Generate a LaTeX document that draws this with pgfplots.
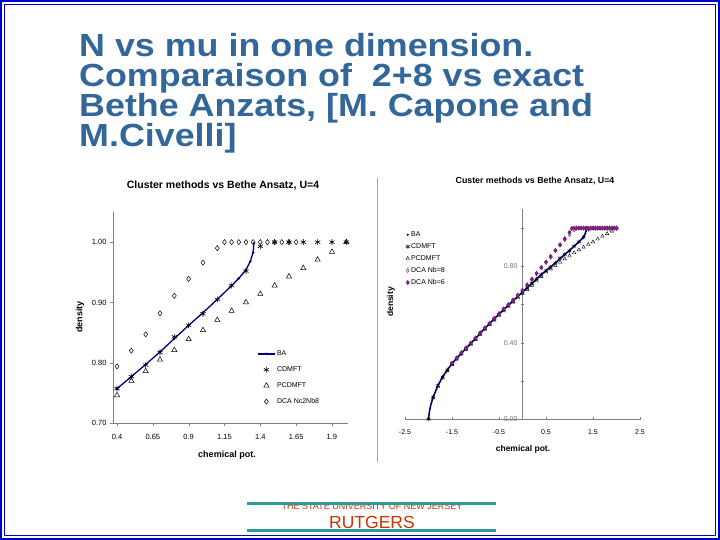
\documentclass[border=0pt]{standalone}
\usepackage{fontspec}
\setmainfont{Liberation Sans}
\usepackage{pgfplots}
\pgfplotsset{compat=1.18}
\definecolor{cTitle}{HTML}{336699}
\definecolor{cNavy}{HTML}{000080}
\definecolor{cPurple}{HTML}{7F1F7F}
\definecolor{cFrame}{HTML}{0000CC}
\definecolor{cTeal}{HTML}{2A9A9A}
\definecolor{cRed}{HTML}{CC3300}
\definecolor{cAxis}{HTML}{808080}

\begin{document}
\begin{tikzpicture}[x=1pt,y=1pt]
\useasboundingbox (0pt,0pt) rectangle (720pt,540pt);
\fill[white] (0pt,0pt) rectangle (720pt,540pt);
\draw[cFrame,line width=2pt] (1pt,1pt) rectangle (719pt,539pt);
\draw[cFrame,line width=1pt] (4.5pt,4.5pt) rectangle (715.5pt,535.5pt);

% slide title
\node[anchor=north west, align=left, inner sep=0, text=cTitle, xscale=1.12,
      font=\bfseries\fontsize{32}{30}\selectfont] at (79pt,507pt)
  {N vs mu in one dimension.\\Comparaison of\ \ 2+8 vs exact\\Bethe Anzats, [M. Capone and\\M.Civelli]};

% ---- left chart
\begin{axis}[
    at={(113pt,117pt)}, anchor=south west, scale only axis,
    width=235pt, height=211pt,
    xmin=0.372, xmax=2.012, ymin=0.7, ymax=1.05,
    axis x line=bottom, axis y line=left,
    axis line style={-,cAxis}, tick style={cAxis},
    tick align=outside, major tick length=3pt,
    xtick={0.4,0.65,0.9,1.15,1.4,1.65,1.9},
    xticklabels={0.4,0.65,0.9,1.15,1.4,1.65,1.9},
    ytick={0.7,0.8,0.9,1.0},
    yticklabels={0.70,0.80,0.90,1.00},
    tick label style={font=\fontsize{7.5}{8}\selectfont},
    xticklabel style={yshift=-5pt},
    legend style={at={(rel axis cs:0.6,0.36)}, anchor=north west, draw=none, fill=none,
                  font=\fontsize{7}{8}\selectfont, row sep=6.5pt, nodes={inner sep=1.5pt}},
    legend cell align=left,
  ]
  \addplot[cNavy, line width=1.3pt, mark=*, mark size=0.5pt] coordinates {
    (0.4,0.757) (0.5,0.777) (0.6,0.797) (0.7,0.818) (0.8,0.840) (0.9,0.862)
    (1.0,0.883) (1.1,0.905) (1.2,0.928) (1.25,0.940) (1.3,0.954) (1.33,0.968)
    (1.35,0.983) (1.355,0.998)
  };
  \addlegendentry{BA}
  \addplot[only marks, mark=asterisk, mark size=3pt, black, mark options={line width=0.6pt}] coordinates {
    (0.4,0.757) (0.5,0.777) (0.6,0.796) (0.7,0.817) (0.8,0.843) (0.9,0.862)
    (1.0,0.881) (1.1,0.905) (1.2,0.928) (1.3,0.952) (1.4,0.993) (1.5,1.0)
    (1.6,1.0) (1.7,1.0) (1.8,1.0) (1.9,1.0) (2.0,1.0)
  };
  \addlegendentry{CDMFT}
  \addplot[only marks, mark=triangle, mark size=3pt, black, mark options={line width=0.5pt}] coordinates {
    (0.4,0.746) (0.5,0.770) (0.6,0.786) (0.7,0.805) (0.8,0.821) (0.9,0.839)
    (1.0,0.854) (1.1,0.871) (1.2,0.886) (1.3,0.900) (1.4,0.914) (1.5,0.928)
    (1.6,0.943) (1.7,0.957) (1.8,0.971) (1.9,0.984) (2.0,1.0)
  };
  \addlegendentry{PCDMFT}
  \addplot[only marks, mark=diamond, mark size=2.6pt, black, mark options={line width=0.5pt}] coordinates {
    (0.4,0.794) (0.5,0.820) (0.6,0.847) (0.7,0.882) (0.8,0.911) (0.9,0.939)
    (1.0,0.966) (1.1,0.990) (1.15,1.0) (1.2,1.0) (1.25,1.0) (1.3,1.0) (1.35,1.0)
    (1.4,1.0) (1.45,1.0) (1.5,1.0) (1.55,1.0) (1.6,1.0) (1.65,1.0)
  };
  \addlegendentry{DCA Nc2Nb8}
\end{axis}
\node[font=\bfseries\fontsize{10.5}{11}\selectfont] at (223pt,354pt) {Cluster methods vs Bethe Ansatz, U=4};
\node[font=\bfseries\fontsize{9}{10}\selectfont, rotate=90] at (80pt,223pt) {density};
\node[font=\bfseries\fontsize{9}{10}\selectfont] at (227pt,85pt) {chemical pot.};

% separator (frame of right chart)
\draw[cAxis!70, line width=0.6pt] (377pt,362pt) -- (377pt,78pt);

% ---- right chart
\begin{axis}[
    at={(405pt,121pt)}, anchor=south west, scale only axis,
    width=235pt, height=210pt,
    xmin=-2.5, xmax=2.5, ymin=0, ymax=1.1,
    axis x line=bottom, axis y line=center,
    hide obscured y ticks=false,
    axis line style={-,cAxis}, tick style={cAxis},
    major tick length=3pt,
    xtick={-2.5,-1.5,-0.5,0.5,1.5,2.5},
    xticklabels={-2.5,-1.5,-0.5,0.5,1.5,2.5},
    ytick={0,0.2,0.4,0.6,0.8,1.0},
    yticklabels={0.00,,0.40,,0.80,},
    tick label style={font=\fontsize{7}{8}\selectfont},
    yticklabel style={text=black!55},
    xticklabel style={yshift=-6pt},
    legend style={at={(rel axis cs:-0.01,0.91)}, anchor=north west, draw=none, fill=none,
                  font=\fontsize{7}{8}\selectfont, row sep=2.5pt, nodes={inner sep=1.5pt}},
    legend cell align=left,
  ]
  \addplot[cNavy, line width=1.6pt, forget plot] coordinates {
    (-2.0,0.0) (-1.98,0.04) (-1.95,0.075) (-1.9,0.115) (-1.8,0.175) (-1.7,0.22)
    (-1.6,0.257) (-1.5,0.29) (-1.4,0.318) (-1.3,0.345) (-1.2,0.37) (-1.1,0.396)
    (-1.0,0.422) (-0.9,0.449) (-0.8,0.475) (-0.7,0.50) (-0.6,0.525) (-0.5,0.549)
    (-0.4,0.573) (-0.3,0.596) (-0.2,0.619) (-0.1,0.642) (0.0,0.665) (0.1,0.688)
    (0.2,0.71) (0.3,0.734) (0.4,0.757) (0.5,0.777) (0.6,0.797) (0.7,0.818)
    (0.8,0.840) (0.9,0.862) (1.0,0.883) (1.1,0.905) (1.2,0.928) (1.25,0.940)
    (1.3,0.954) (1.33,0.968) (1.35,0.983) (1.355,0.998)
  };
  \addlegendimage{only marks, mark=*, mark size=0.9pt, cNavy}
  \addlegendentry{BA}
  \addplot[only marks, mark=asterisk, mark size=2.2pt, black, mark options={line width=0.5pt}] coordinates {
    (-2.0,0.0) (-1.9,0.115) (-1.8,0.175) (-1.7,0.22) (-1.6,0.257) (-1.5,0.29)
    (-1.4,0.318) (-1.3,0.345) (-1.2,0.37) (-1.1,0.396) (-1.0,0.422) (-0.9,0.449)
    (-0.8,0.475) (-0.7,0.50) (-0.6,0.525) (-0.5,0.549) (-0.4,0.573) (-0.3,0.596)
    (-0.2,0.619) (-0.1,0.642) (0.0,0.665) (0.1,0.688) (0.2,0.71) (0.3,0.734)
    (0.4,0.757) (0.5,0.777) (0.6,0.796) (0.7,0.817) (0.8,0.843) (0.9,0.862)
    (1.0,0.881) (1.1,0.905) (1.2,0.928) (1.3,0.952) (1.4,0.993) (1.5,1.0)
    (1.55,1.0) (1.6,1.0) (1.65,1.0) (1.7,1.0) (1.75,1.0) (1.8,1.0) (1.85,1.0)
    (1.9,1.0) (1.95,1.0) (2.0,1.0)
  };
  \addlegendentry{CDMFT}
  \addplot[only marks, mark=triangle, mark size=2pt, black, mark options={line width=0.4pt}] coordinates {
    (-2.0,0.0) (-1.9,0.11) (-1.8,0.17) (-1.7,0.215) (-1.6,0.252) (-1.5,0.285)
    (-1.4,0.313) (-1.3,0.34) (-1.2,0.365) (-1.1,0.39) (-1.0,0.416) (-0.9,0.443)
    (-0.8,0.469) (-0.7,0.494) (-0.6,0.518) (-0.5,0.542) (-0.4,0.566) (-0.3,0.589)
    (-0.2,0.612) (-0.1,0.634) (0.0,0.656) (0.1,0.678) (0.2,0.70) (0.3,0.723)
    (0.4,0.746) (0.5,0.770) (0.6,0.786) (0.7,0.805) (0.8,0.821) (0.9,0.839)
    (1.0,0.854) (1.1,0.871) (1.2,0.886) (1.3,0.900) (1.4,0.914) (1.5,0.928)
    (1.6,0.943) (1.7,0.957) (1.8,0.971) (1.9,0.984) (2.0,1.0)
  };
  \addlegendentry{PCDMFT}
  \addplot[only marks, mark=diamond, mark size=2pt, black!80, mark options={line width=0.4pt}] coordinates {
    (-1.5,0.29) (-1.4,0.318) (-1.3,0.345) (-1.2,0.37) (-1.1,0.396) (-1.0,0.422)
    (-0.9,0.449) (-0.8,0.475) (-0.7,0.50) (-0.6,0.525) (-0.5,0.549) (-0.4,0.573)
    (-0.3,0.596) (-0.2,0.619) (-0.1,0.645) (0.0,0.67) (0.1,0.70) (0.2,0.73)
    (0.3,0.762) (0.4,0.794) (0.5,0.820) (0.6,0.847) (0.7,0.882) (0.8,0.911)
    (0.9,0.939) (1.0,0.966) (1.1,0.990) (1.15,1.0) (1.2,1.0) (1.25,1.0) (1.3,1.0)
    (1.35,1.0) (1.4,1.0) (1.45,1.0) (1.5,1.0) (1.55,1.0) (1.6,1.0) (1.65,1.0)
    (1.7,1.0) (1.75,1.0) (1.8,1.0) (1.85,1.0) (1.9,1.0) (1.95,1.0) (2.0,1.0)
  };
  \addlegendentry{DCA Nb=8}
  \addplot[only marks, mark=diamond*, mark size=2.2pt, cPurple, mark options={fill=cPurple}] coordinates {
    (-1.5,0.292) (-1.4,0.32) (-1.3,0.347) (-1.2,0.372) (-1.1,0.398) (-1.0,0.424)
    (-0.9,0.451) (-0.8,0.477) (-0.7,0.502) (-0.6,0.527) (-0.5,0.552) (-0.4,0.577)
    (-0.3,0.60) (-0.2,0.624) (-0.1,0.649) (0.0,0.675) (0.1,0.703) (0.2,0.733)
    (0.3,0.763) (0.4,0.793) (0.5,0.822) (0.6,0.852) (0.7,0.883) (0.8,0.913)
    (0.9,0.945) (1.0,0.978) (1.05,0.998) (1.1,1.0) (1.15,1.0) (1.2,1.0) (1.25,1.0)
    (1.3,1.0) (1.35,1.0) (1.4,1.0) (1.45,1.0) (1.5,1.0) (1.55,1.0) (1.6,1.0)
    (1.65,1.0) (1.7,1.0) (1.75,1.0) (1.8,1.0) (1.85,1.0) (1.9,1.0) (1.95,1.0) (2.0,1.0)
  };
  \addlegendentry{DCA Nb=6}
\end{axis}
\node[font=\bfseries\fontsize{8.8}{9}\selectfont] at (535pt,359pt) {Custer methods vs Bethe Ansatz, U=4};
\node[font=\bfseries\fontsize{8.5}{9}\selectfont, rotate=90] at (391pt,238pt) {density};
\node[font=\bfseries\fontsize{8.5}{9}\selectfont] at (523pt,91pt) {chemical pot.};

% ---- Rutgers logo
\node[text=cRed, font=\fontsize{9}{9}\selectfont] at (372pt,34pt) {THE STATE UNIVERSITY OF NEW JERSEY};
\node[text=cRed, font=\fontsize{17.5}{18}\selectfont] at (372pt,18pt) {RUTGERS};
\draw[cTeal, line width=3pt] (247pt,36.5pt) -- (496pt,36.5pt);
\draw[cTeal, line width=3pt] (247pt,9pt) -- (496pt,9pt);
\end{tikzpicture}
\end{document}
